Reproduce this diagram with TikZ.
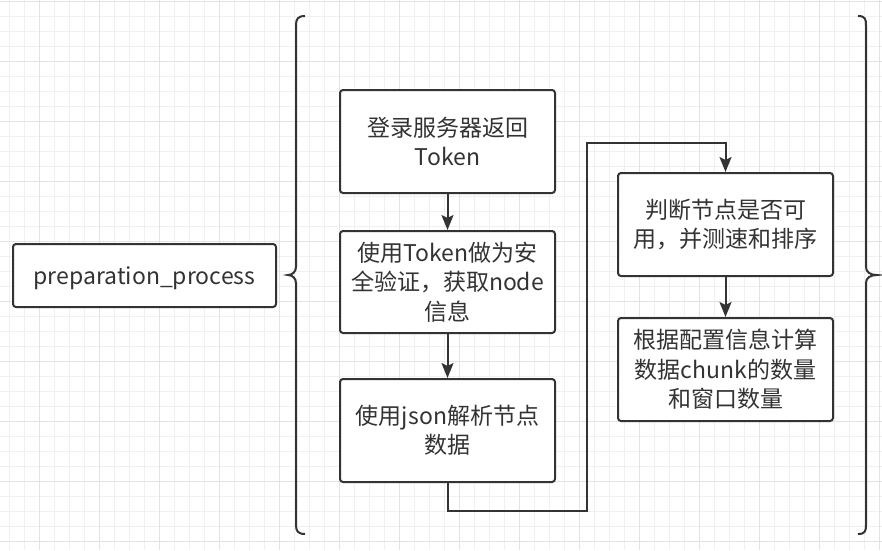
\documentclass[tikz,border=0pt]{standalone}
\usepackage{fontspec}
\newfontfamily\cjk{Noto Sans CJK SC}
\usetikzlibrary{arrows.meta}
\definecolor{ink}{HTML}{333333}
\definecolor{gridminor}{HTML}{F0F0F0}
\definecolor{gridmajor}{HTML}{E3E3E3}

\begin{document}
\begin{tikzpicture}[x=1pt,y=-1pt]
\tikzstyle{box}=[draw=ink,line width=2pt,fill=white,rectangle,rounded corners=3pt,align=center,minimum width=215pt,minimum height=103pt,text=ink,font=\cjk\fontsize{23}{29.5}\selectfont]
\tikzstyle{arr}=[draw=ink,line width=2pt,-{Stealth[length=15pt,width=12pt,inset=3pt]}]
\tikzstyle{brace}=[draw=ink,line width=2pt]
\useasboundingbox (0,0) rectangle (882,550);
\fill[white] (0,0) rectangle (882,550);
% background grid
\foreach \i in {0,...,58} \draw[gridminor,line width=1pt] (9.5+15*\i,0) -- (9.5+15*\i,550);
\foreach \j in {0,...,36} \draw[gridminor,line width=1pt] (0,1+15*\j) -- (882,1+15*\j);
\foreach \i in {0,...,14} \draw[gridmajor,line width=1pt] (39.5+60*\i,0) -- (39.5+60*\i,550);
\foreach \j in {0,...,9} \draw[gridmajor,line width=1pt] (0,1+60*\j) -- (882,1+60*\j);

% the process name
\node[box,minimum width=263pt,minimum height=63pt] (prep) at (144.5,275.5) {\raisebox{-3pt}[\height][\depth]{preparation\_process}};

% left and right braces
\draw[brace] (305,16) .. controls (298,16) and (296,19) .. (296,25) -- (296,267)
  .. controls (296,272) and (292,275) .. (288,275) .. controls (292,275) and (296,278) .. (296,283)
  -- (296,525) .. controls (296,531) and (298,534) .. (305,534);
\draw[brace] (858,16) .. controls (865,16) and (866,19) .. (866,25) -- (866,267)
  .. controls (866,272) and (870,275) .. (877,275) .. controls (870,275) and (866,278) .. (866,283)
  -- (866,525) .. controls (866,531) and (865,534) .. (858,534);

% first column
\node[box] (login) at (447.5,141.5) {登录服务器返回\\Token};
\node[box,minimum height=102pt] (fetch) at (447.5,282) {使用Token做为安\\全验证，获取node\\信息};
\node[box] (parse) at (447.5,430.5) {使用json解析节点\\数据};

% second column
\node[box] (check) at (725.5,224.5) {判断节点是否可\\用，并测速和排序};
\node[box] (count) at (725.5,369.5) {根据配置信息计算\\数据chunk的数量\\和窗口数量};

% connectors
\coordinate (low) at (587,511);
\coordinate (high) at (587,143);
\draw[arr] (login) -- (fetch);
\draw[arr] (fetch) -- (parse);
\draw[arr] (parse.south) |- (low) -- (high) -| (check.north);
\draw[arr] (check) -- (count);

\end{tikzpicture}
\end{document}
